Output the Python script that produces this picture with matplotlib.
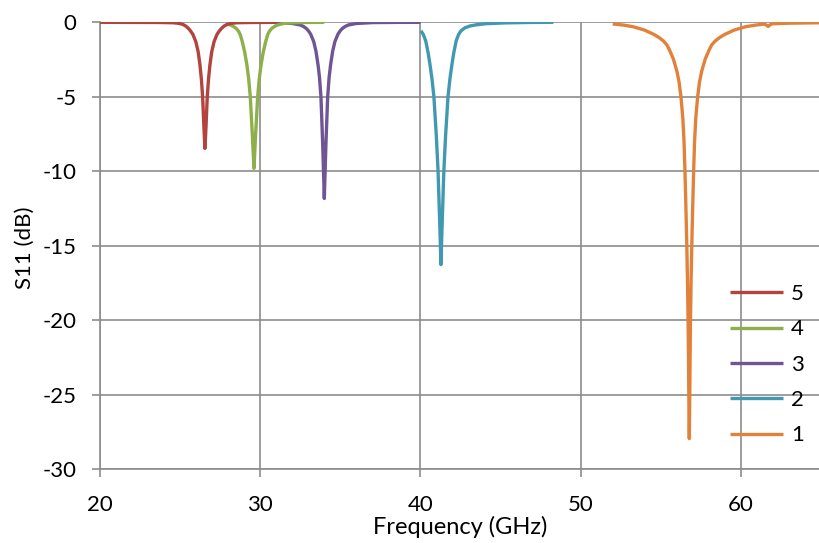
import matplotlib
matplotlib.use("Agg")
import matplotlib.pyplot as plt

plt.rcParams['font.family'] = ['Lato', 'DejaVu Sans']
plt.rcParams['axes.unicode_minus'] = False

# S11 traces (frequency in GHz, S11 in dB)
f5 = [20.0, 23.55, 24.55, 24.85, 25.15, 25.35, 25.51, 25.65, 25.80, 25.98, 26.13,
      26.24, 26.33, 26.405, 26.48, 26.515, 26.55, 26.585, 26.62, 26.695, 26.77,
      26.86, 26.97, 27.12, 27.30, 27.45, 27.59, 27.75, 27.95, 28.25, 28.55, 29.55, 31.0]
s5 = [0, -0.01, -0.03, -0.06, -0.13, -0.25, -0.4, -0.58, -0.82, -1.3, -2.0,
      -2.87, -3.85, -5.0, -6.9, -7.7, -8.47, -7.7, -6.9, -5.0, -3.85,
      -2.87, -2.0, -1.3, -0.82, -0.58, -0.4, -0.25, -0.13, -0.06, -0.03, -0.01, 0]

f4 = [27.90, 28.16, 28.36, 28.51, 28.66, 28.76, 28.88, 29.03, 29.17, 29.28, 29.38,
      29.51, 29.56, 29.61, 29.66, 29.71, 29.84, 29.94, 30.05, 30.19, 30.34, 30.46,
      30.56, 30.71, 30.86, 31.06, 31.32, 31.61, 32.11, 32.81, 34.0]
s4 = [-0.11, -0.19, -0.3, -0.42, -0.62, -0.85, -1.3, -2.0, -2.87, -3.8, -5.0,
      -7.6, -8.7, -9.81, -8.7, -7.6, -5.0, -3.8, -2.87, -2.0, -1.3, -0.85,
      -0.62, -0.42, -0.3, -0.19, -0.11, -0.06, -0.03, -0.01, 0]

f3 = [30.9, 32.0, 32.5, 32.7, 32.88, 33.0, 33.15, 33.34, 33.48, 33.61, 33.70,
      33.79, 33.90, 33.95, 34.0, 34.05, 34.10, 34.21, 34.30, 34.39, 34.52, 34.66,
      34.85, 35.0, 35.12, 35.3, 35.5, 36.0, 37.0, 38.5, 40.0]
s3 = [-0.02, -0.08, -0.18, -0.28, -0.42, -0.56, -0.8, -1.3, -1.95, -2.87, -3.7,
      -5.0, -8.2, -10.0, -11.83, -10.0, -8.2, -5.0, -3.7, -2.87, -1.95, -1.3,
      -0.8, -0.56, -0.42, -0.28, -0.18, -0.08, -0.02, -0.005, 0]

f2 = [40.03, 40.18, 40.33, 40.48, 40.60, 40.72, 40.84, 40.99, 41.10, 41.19, 41.235,
      41.28, 41.325, 41.37, 41.46, 41.57, 41.72, 41.84, 41.96, 42.08, 42.23, 42.38,
      42.53, 42.78, 43.08, 43.48, 44.13, 45.28, 46.78, 48.3]
s2 = [-0.57, -0.82, -1.25, -2.05, -2.87, -3.8, -5.0, -7.6, -10.0, -13.0, -14.6,
      -16.27, -14.6, -13.0, -10.0, -7.6, -5.0, -3.8, -2.87, -2.05, -1.25, -0.82,
      -0.57, -0.37, -0.25, -0.17, -0.09, -0.04, -0.01, 0]

f1 = [52.0, 52.7, 53.28, 53.98, 54.58, 54.9, 55.18, 55.38, 55.54, 55.78, 56.01,
      56.14, 56.26, 56.38, 56.45, 56.51, 56.57, 56.625, 56.67, 56.705, 56.73,
      56.75, 56.765, 56.78, 56.795, 56.81, 56.83, 56.855, 56.89, 56.935, 56.99,
      57.05, 57.11, 57.18, 57.30, 57.42, 57.55, 57.78, 58.02, 58.18, 58.38, 58.66,
      58.98, 59.58, 60.28, 60.9, 61.45, 61.62, 61.7, 61.78, 61.95, 63.0, 65.0]
s1 = [-0.11, -0.19, -0.3, -0.52, -0.82, -1.03, -1.27, -1.52, -1.85, -2.45, -3.3,
      -4.0, -5.0, -6.5, -8.0, -10.0, -12.5, -15.0, -17.5, -20.0, -22.5,
      -25.0, -26.5, -27.96, -26.5, -25.0, -22.5, -20.0, -17.5, -15.0, -12.5,
      -10.0, -8.0, -6.5, -5.0, -4.0, -3.3, -2.45, -1.85, -1.52, -1.27, -1.03,
      -0.82, -0.52, -0.3, -0.19, -0.12, -0.2, -0.28, -0.2, -0.1, -0.06, -0.03]

labels = ['5', '4', '3', '2', '1']
freqs = [f5, f4, f3, f2, f1]
s11 = [s5, s4, s3, s2, s1]
colors = ['#B3433E', '#8DB04A', '#6F5596', '#4199B1', '#E2823A']

xticks = [20, 30, 40, 50, 60]
yticks = [0, -5, -10, -15, -20, -25, -30]

fig = plt.figure(figsize=(8.19, 5.43), dpi=100)
ax = fig.add_axes([100 / 819, 1 - 469 / 543, 721 / 819, (469 - 22.3) / 543])

for i in range(len(labels)):
    ax.plot(freqs[i], s11[i], color=colors[i], lw=2.4, label=labels[i],
            zorder=10 - i, solid_capstyle='butt')

grid_col = '#8C8C8C'
ax.set_xlim(20, 65)
ax.set_ylim(-30, 0)
ax.set_xticks(xticks)
ax.set_yticks(yticks)
ax.grid(True, color=grid_col, lw=1.2)
ax.set_axisbelow(True)
for side in ['top', 'right']:
    ax.spines[side].set_visible(False)
for side in ['left', 'bottom']:
    ax.spines[side].set_color(grid_col)
    ax.spines[side].set_linewidth(1.2)
ax.tick_params(axis='both', colors=grid_col, width=1.2, length=6, labelcolor='black',
               labelsize=16)
ax.tick_params(axis='y', pad=11)
ax.tick_params(axis='x', pad=13)

ax.set_xlabel('Frequency (GHz)', fontsize=17, labelpad=0.5)
ax.set_ylabel('S11 (dB)', fontsize=16)
ax.yaxis.set_label_coords(-0.09, 0.495)

leg = ax.legend(loc='upper left', bbox_to_anchor=(730 / 819, 1 - 284 / 543),
                bbox_transform=fig.transFigure, frameon=False, fontsize=16,
                handlelength=2.4, handletextpad=0.35, labelspacing=0.69,
                borderpad=0, borderaxespad=0)

fig.savefig('out.png', dpi=100)
